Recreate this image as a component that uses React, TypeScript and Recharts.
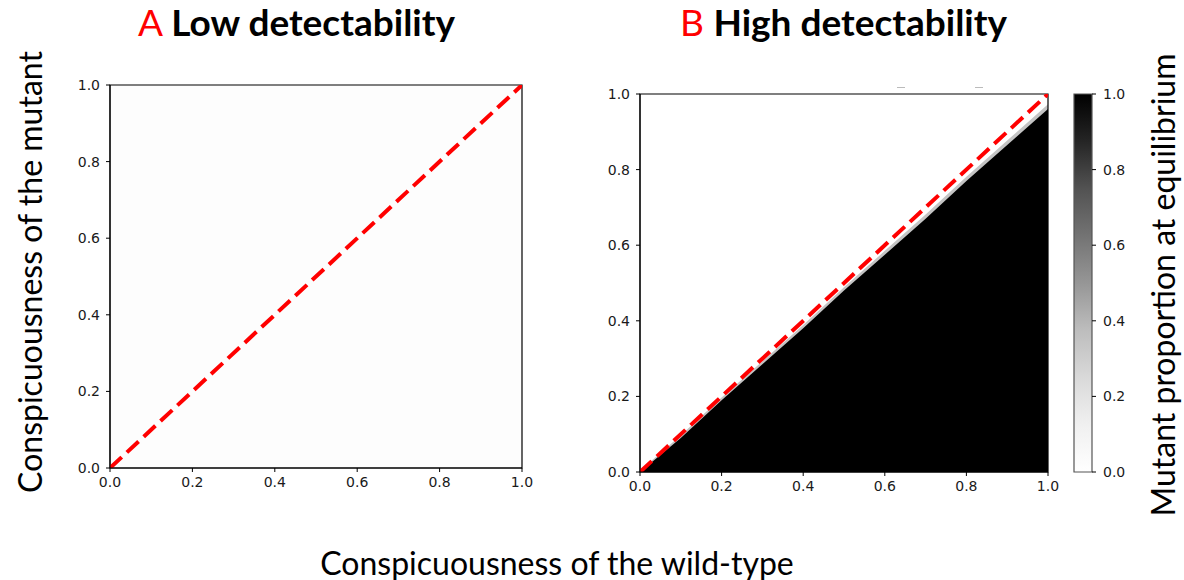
import React from 'react';
import { ComposedChart, Line, Area, XAxis, YAxis, ReferenceArea } from 'recharts';

// axis ticks shared by both panels and the colour bar
const ticks = [0, 0.2, 0.4, 0.6, 0.8, 1.0];

// dashed diagonal (mutant = wild-type)
const diagonal = [
  { x: 0, y: 0 },
  { x: 1, y: 1 },
];

// panel B: wild-type conspicuousness vs. top of the black (mutant wins) region
const wildType = [0, 0.1, 0.2, 0.3, 0.4, 0.5, 0.6, 0.7, 0.8, 0.9, 1.0];
const blackTop = [0, 0.09, 0.19, 0.285, 0.38, 0.48, 0.575, 0.67, 0.77, 0.865, 0.96];
const greyTop = [0.003, 0.097, 0.197, 0.293, 0.389, 0.489, 0.585, 0.681, 0.781, 0.877, 0.973];

const heatData = wildType.map((x, i) => ({ x, black: blackTop[i], grey: greyTop[i] }));

// matplotlib "Greys" colour map stops
const greysStops = ['#ffffff', '#f0f0f0', '#d9d9d9', '#bdbdbd', '#969696', '#737373', '#525252', '#252525', '#000000'];

const fmt = (v: number) => v.toFixed(1);

// draw the tick text ourselves so the font size sticks
const makeTick = (anchor: 'middle' | 'end' | 'start', dy: string) => (props: any) => {
  const { x, y, payload } = props;
  return (
    <text
      x={x}
      y={y}
      dy={dy}
      textAnchor={anchor}
      style={{ fontFamily: '"DejaVu Sans"', fontSize: '14px', fill: '#1a1a1a' }}
    >
      {fmt(payload.value)}
    </text>
  );
};
const xTick = makeTick('middle', '0.8em');
const yTick = makeTick('end', '0.36em');
const cbTick = makeTick('start', '0.36em');

const Title: React.FC<{ letter: string; text: string; left: number }> = ({ letter, text, left }) => (
  <div
    style={{
      position: 'absolute',
      left,
      top: 0,
      fontFamily: 'Lato, sans-serif',
      fontSize: 37,
      lineHeight: '44px',
      whiteSpace: 'nowrap',
    }}
  >
    <span style={{ color: '#ff0000' }}>{letter}</span>{' '}
    <span style={{ fontWeight: 'bold', color: '#000' }}>{text}</span>
  </div>
);

const Frame = () => (
  <ReferenceArea x1={0} x2={1} y1={0} y2={1} fill="none" fillOpacity={0} stroke="#000" strokeWidth={1.2} ifOverflow="visible" />
);

const label = {
  position: 'absolute' as const,
  fontFamily: 'Lato, sans-serif',
  fontSize: 32,
  whiteSpace: 'nowrap' as const,
  color: '#000',
};

const App: React.FC = () => {
  return (
    <div style={{ position: 'absolute', left: 0, top: 0, width: 1184, height: 580, background: '#fff', overflow: 'hidden' }}>
      <Title letter="A" text="Low detectability" left={138} />
      <Title letter="B" text="High detectability" left={680} />

      {/* stray marks above panel B in the original figure */}
      <div style={{ position: 'absolute', left: 897, top: 87, width: 8, height: 1, background: '#bbb' }} />
      <div style={{ position: 'absolute', left: 975, top: 87, width: 8, height: 1, background: '#bbb' }} />

      {/* panel A */}
      <div style={{ position: 'absolute', left: 50, top: 70 }}>
        <ComposedChart width={500} height={440} data={diagonal} margin={{ top: 15, right: 28, left: 0, bottom: 12 }}>
          <ReferenceArea x1={0} x2={1} y1={0} y2={1} fill="#fdfdfd" fillOpacity={1} stroke="none" />
          <XAxis
            type="number"
            dataKey="x"
            domain={[0, 1]}
            ticks={ticks}
            tick={xTick}
            tickSize={4}
            tickMargin={4}
            height={30}
            stroke="#000"
            allowDataOverflow
          />
          <YAxis
            type="number"
            domain={[0, 1]}
            ticks={ticks}
            tick={yTick}
            tickSize={4}
            tickMargin={6}
            width={60}
            stroke="#000"
            allowDataOverflow
          />
          <Frame />
          <Line
            dataKey="y"
            stroke="#ff0000"
            strokeWidth={4}
            strokeDasharray="16 7"
            dot={false}
            isAnimationActive={false}
          />
        </ComposedChart>
      </div>

      {/* panel B */}
      <div style={{ position: 'absolute', left: 580, top: 79 }}>
        <ComposedChart width={500} height={440} data={heatData} margin={{ top: 15, right: 32, left: 0, bottom: 17 }}>
          <XAxis
            type="number"
            dataKey="x"
            domain={[0, 1]}
            ticks={ticks}
            tick={xTick}
            tickSize={4}
            tickMargin={4}
            height={30}
            stroke="#000"
            allowDataOverflow
          />
          <YAxis
            type="number"
            domain={[0, 1]}
            ticks={ticks}
            tick={yTick}
            tickSize={4}
            tickMargin={6}
            width={60}
            stroke="#000"
            allowDataOverflow
          />
          <Area dataKey="grey" type="linear" stroke="none" fill="#c4c4c4" fillOpacity={1} isAnimationActive={false} />
          <Area dataKey="black" type="linear" stroke="none" fill="#000" fillOpacity={1} isAnimationActive={false} />
          <Line
            data={diagonal}
            dataKey="y"
            stroke="#ff0000"
            strokeWidth={4}
            strokeDasharray="16 7"
            dot={false}
            isAnimationActive={false}
          />
          <Frame />
        </ComposedChart>
      </div>

      {/* colour bar */}
      <div style={{ position: 'absolute', left: 1060, top: 79 }}>
        <ComposedChart width={100} height={440} data={diagonal} margin={{ top: 15, right: 18, left: 14, bottom: 47 }}>
          <defs>
            <linearGradient id="greys" x1="0" y1="1" x2="0" y2="0">
              {greysStops.map((c, i) => (
                <stop key={c} offset={`${(i / (greysStops.length - 1)) * 100}%`} stopColor={c} />
              ))}
            </linearGradient>
          </defs>
          <XAxis type="number" dataKey="x" domain={[0, 1]} hide />
          <YAxis
            orientation="right"
            type="number"
            domain={[0, 1]}
            ticks={ticks}
            tick={cbTick}
            tickSize={4}
            tickMargin={7}
            width={50}
            stroke="#000"
            axisLine={false}
          />
          <Line dataKey="y" stroke="none" dot={false} isAnimationActive={false} />
          <ReferenceArea x1={0} x2={1} y1={0} y2={1} fill="url(#greys)" fillOpacity={1} stroke="#555" strokeWidth={1.2} />
        </ComposedChart>
      </div>

      {/* axis titles */}
      <div style={{ ...label, left: 29, top: 272, transform: 'translate(-50%, -50%) rotate(-90deg)' }}>
        Conspicuousness of the mutant
      </div>
      <div style={{ ...label, left: 557, top: 562, transform: 'translate(-50%, -50%)' }}>
        Conspicuousness of the wild-type
      </div>
      <div style={{ ...label, left: 1162, top: 285, transform: 'translate(-50%, -50%) rotate(-90deg)' }}>
        Mutant proportion at equilibrium
      </div>
    </div>
  );
};

export default App;
